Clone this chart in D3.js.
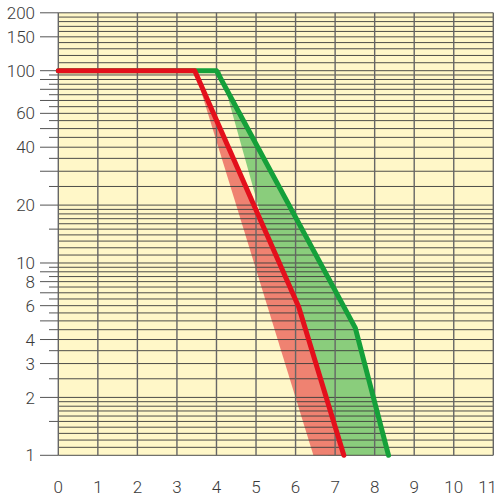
<!DOCTYPE html>
<html>
<head>
<meta charset="utf-8">
<script src="https://cdn.jsdelivr.net/npm/d3@7"></script>
<style>
  body { margin: 0; background: #fff; }
  svg { display: block; }
  text { font-family: Roboto, "Liberation Sans", sans-serif; font-weight: 300; fill: #3a3a3a; }
</style>
</head>
<body>
<div id="chart"></div>
<script>
// x categories and y axis ticks
const xTicks = [0, 1, 2, 3, 4, 5, 6, 7, 8, 9, 10, 11];
const yLabels = [1, 2, 3, 4, 6, 8, 10, 20, 40, 60, 100, 150, 200];
const yLongTicks = [1, 2, 3, 4, 5, 6, 7, 8, 9, 10, 20, 30, 40, 50, 60, 70, 80, 90, 100, 150, 200];
const yShortTicks = [1.5, 2.5, 3.5, 4.5, 5.5, 6.5, 7.5, 8.5, 9.5, 15, 25, 35, 45, 55, 65, 75, 85, 95];
// horizontal grid: [from, to, step]
const gridBands = [[1, 2, 0.1], [2, 10, 0.5], [10, 20, 1], [20, 100, 5], [100, 200, 10]];

// main curves
const redX = [0, 3.45, 6.08, 7.22];
const redY = [100, 100, 5.9, 1];
const greenX = [0, 4.0, 7.51, 8.35];
const greenY = [100, 100, 4.6, 1];
// lower edges of the shaded bands
const redLowX = [3.45, 6.45];
const redLowY = [100, 1];
const greenLowX = [4.1, 6.82];
const greenLowY = [100, 1];

const width = 500, height = 500;
const plot = { left: 58.3, right: 493.3, top: 12.8, bottom: 455.3 };

const svg = d3.select('#chart').append('svg')
  .attr('width', width)
  .attr('height', height);

const x = d3.scaleLinear().domain([0, 11]).range([plot.left, plot.right]);
const y = d3.scaleLog().domain([1, 200]).range([plot.bottom, plot.top]);

const pts = (xs, ys) => xs.map((v, i) => [v, ys[i]]);
const line = d3.line().x(d => x(d[0])).y(d => y(d[1]));

// background
svg.append('rect')
  .attr('x', x(0)).attr('y', y(200))
  .attr('width', x(11) - x(0)).attr('height', y(1) - y(200))
  .attr('fill', '#fff7c8');

// shaded bands (under the grid)
const greenBand = pts(greenLowX, greenLowY).concat(pts(greenX, greenY).slice(1).reverse());
svg.append('path')
  .attr('d', line(greenBand) + 'Z')
  .attr('fill', '#8acd7c');

const redBand = pts(redLowX, redLowY).concat(pts(redX, redY).slice(1).reverse());
svg.append('path')
  .attr('d', line(redBand) + 'Z')
  .attr('fill', '#ef8271');

// horizontal grid
let gridVals = [];
gridBands.forEach(([a, b, s]) => {
  const n = Math.round((b - a) / s);
  for (let i = 0; i < n; i++) gridVals.push(+(a + i * s).toFixed(2));
});
gridVals.push(200);

svg.append('g')
  .selectAll('line')
  .data(gridVals)
  .join('line')
  .attr('x1', x(0)).attr('x2', x(11))
  .attr('y1', d => y(d)).attr('y2', d => y(d))
  .attr('stroke', '#3a3a3a')
  .attr('stroke-width', 0.9);

// vertical grid
svg.append('g')
  .selectAll('line')
  .data(xTicks)
  .join('line')
  .attr('x1', d => x(d)).attr('x2', d => x(d))
  .attr('y1', y(200)).attr('y2', y(1))
  .attr('stroke', '#666')
  .attr('stroke-width', 1.4);

// y ticks on the left
svg.append('g')
  .selectAll('line')
  .data(yLongTicks)
  .join('line')
  .attr('x1', 40).attr('x2', x(0))
  .attr('y1', d => y(d)).attr('y2', d => y(d))
  .attr('stroke', '#555')
  .attr('stroke-width', 1);

svg.append('g')
  .selectAll('line')
  .data(yShortTicks)
  .join('line')
  .attr('x1', 49).attr('x2', x(0))
  .attr('y1', d => y(d)).attr('y2', d => y(d))
  .attr('stroke', '#555')
  .attr('stroke-width', 1);

// y labels
svg.append('g')
  .selectAll('text')
  .data(yLabels)
  .join('text')
  .attr('x', 35)
  .attr('y', d => y(d))
  .attr('dy', '0.36em')
  .attr('text-anchor', 'end')
  .attr('font-size', 17)
  .text(d => d);

// x labels (last one pulled in so it stays on the page)
svg.append('g')
  .selectAll('text')
  .data(xTicks)
  .join('text')
  .attr('x', d => d === 11 ? 497 : x(d))
  .attr('y', 493)
  .attr('text-anchor', d => d === 11 ? 'end' : 'middle')
  .attr('font-size', 17)
  .text(d => d);

// curves
svg.append('path')
  .attr('d', line(pts(greenX, greenY)))
  .attr('fill', 'none')
  .attr('stroke', '#15a03a')
  .attr('stroke-width', 5)
  .attr('stroke-linejoin', 'round')
  .attr('stroke-linecap', 'round');

svg.append('path')
  .attr('d', line(pts(redX, redY)))
  .attr('fill', 'none')
  .attr('stroke', '#e3101c')
  .attr('stroke-width', 5)
  .attr('stroke-linejoin', 'round')
  .attr('stroke-linecap', 'round');
</script>
</body>
</html>
